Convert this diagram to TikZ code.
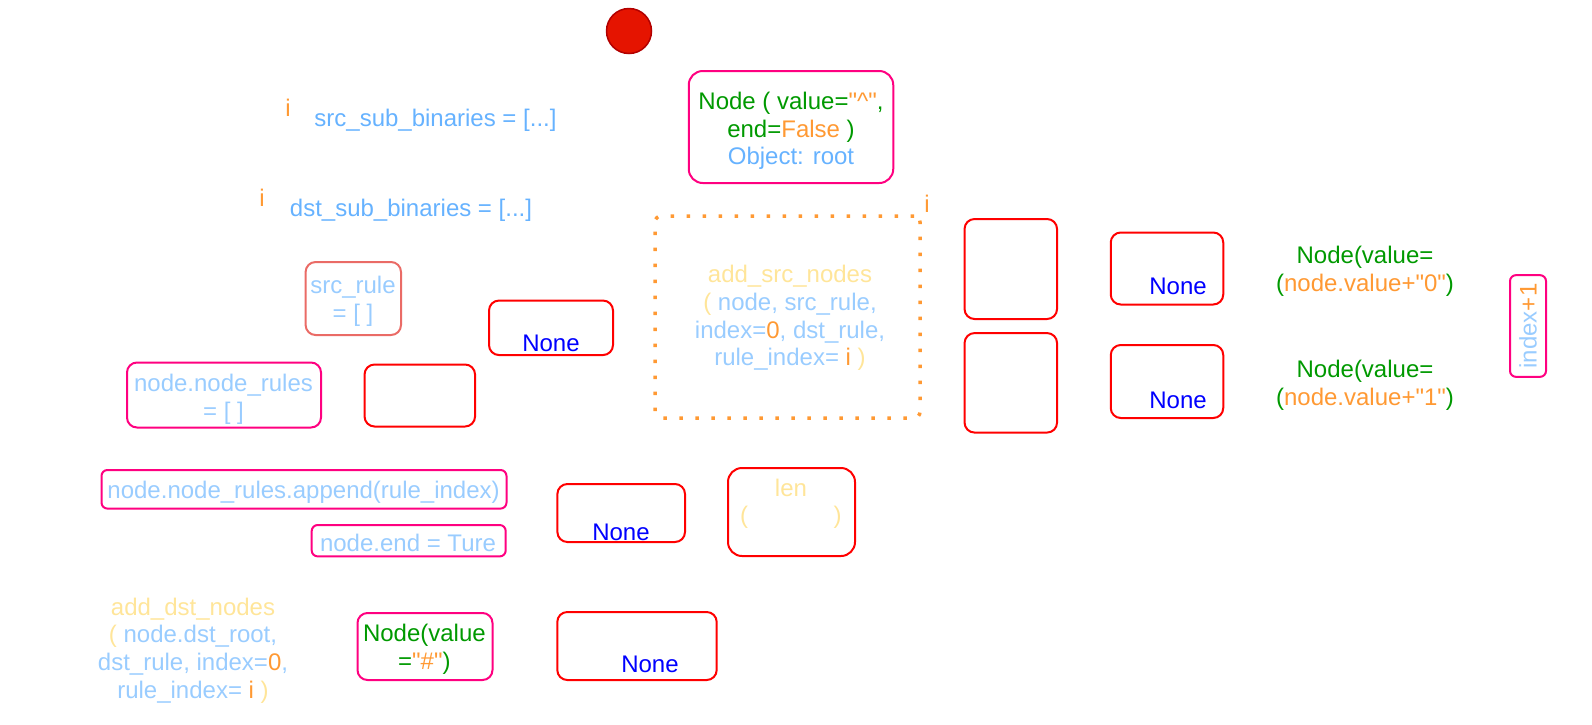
\documentclass[tikz,border=0pt]{standalone}
\usepackage{fontspec}
\setmainfont{Liberation Sans}[Ligatures=TeXOff]
\definecolor{cGreen}{HTML}{009900}
\definecolor{cOrange}{HTML}{FF9933}
\definecolor{cBlueA}{HTML}{66B2FF}
\definecolor{cBlueB}{HTML}{99CCFF}
\definecolor{cYellow}{HTML}{FFE599}
\definecolor{cPink}{HTML}{FF0080}
\definecolor{cRed}{HTML}{FF0000}
\definecolor{cSalmon}{HTML}{EA6B66}
\definecolor{cNone}{HTML}{0000FF}
\definecolor{cCircF}{HTML}{E51400}
\definecolor{cCircD}{HTML}{B20000}
\newcommand\fs{\fontsize{24}{27.6}\selectfont}
\newcommand\qq{\symbol{34}}
\tikzset{
  rbox/.style={draw=cRed, rounded corners=10pt, line width=2pt, inner sep=0pt},
  pbox/.style={draw=cPink, rounded corners=10pt, line width=2pt, inner sep=0pt},
  txt/.style={inner sep=0pt, align=center, font=\fs, yshift=-2pt},
  ivar/.style={txt, text=cOrange},
  nonetxt/.style={txt, text=cNone},
}
\begin{document}
\begin{tikzpicture}[x=1pt,y=-1pt]
\useasboundingbox (0,0) rectangle (1592,724);

% start circle
\node[circle, draw=cCircD, fill=cCircF, line width=1.5pt, minimum size=45pt, inner sep=0pt] (start) at (629,31) {};

% left top texts
\node[ivar] (i1) at (288,106) {i};
\node[txt, text=cBlueA] (srcsub) at (435.5,118) {src\_sub\_binaries = [...]};
\node[ivar] (i2) at (262,196) {i};
\node[txt, text=cBlueA] (dstsub) at (411,208) {dst\_sub\_binaries = [...]};

% root node
\node[pbox, rounded corners=14pt, minimum width=204.5pt, minimum height=112pt] (root) at (791,127) {};
\node[txt] (roottxt) at (791,129) {\textcolor{cGreen}{Node ( value=}\textcolor{cOrange}{\qq\^{}\qq}\textcolor{cGreen}{,}\\
\textcolor{cGreen}{end=}\textcolor{cOrange}{False} \textcolor{cGreen}{)}\\
\textcolor{cBlueA}{Object: root}};

% dotted add_src_nodes box
\node[draw=cOrange, line width=3.5pt, dash pattern=on 3.5pt off 12.5pt, rounded corners=6pt, inner sep=0pt,
      minimum width=265pt, minimum height=202pt] (srcbox) at (787.5,317) {};
\node[ivar] (i3) at (927,202) {i};
\node[txt] (srctxt) at (790,316) {\textcolor{cYellow}{add\_src\_nodes}\\
\textcolor{cYellow}{(} \textcolor{cBlueB}{node, src\_rule,}\\
\textcolor{cBlueB}{index=}\textcolor{cOrange}{0}\textcolor{cBlueB}{, dst\_rule,}\\
\textcolor{cBlueB}{rule\_index=} \textcolor{cOrange}{i} \textcolor{cYellow}{)}};

% right side boxes
\node[rbox, minimum width=92.5pt, minimum height=100pt] (tall1) at (1010.8,269) {};
\node[rbox, minimum width=92.5pt, minimum height=99.5pt] (tall2) at (1010.8,382.8) {};
\node[rbox, minimum width=112.5pt, minimum height=72pt] (noneR1) at (1167,268.5) {};
\node[nonetxt] (noneR1t) at (1178,284) {None};
\node[rbox, minimum width=112.5pt, minimum height=73pt] (noneR2) at (1167,381.5) {};
\node[nonetxt] (noneR2t) at (1178,398) {None};
\node[txt] (val0) at (1365,269.5) {\textcolor{cGreen}{Node(value=}\\
\textcolor{cGreen}{(}\textcolor{cOrange}{node.value+\qq 0\qq}\textcolor{cGreen}{)}};
\node[txt] (val1) at (1365,383) {\textcolor{cGreen}{Node(value=}\\
\textcolor{cGreen}{(}\textcolor{cOrange}{node.value+\qq 1\qq}\textcolor{cGreen}{)}};
\node[pbox, rounded corners=6pt, minimum width=36pt, minimum height=101.7pt] (idx) at (1528,326) {};
\node[inner sep=0pt, font=\fs, rotate=90] (idxt) at (1528,326) {\textcolor{cBlueB}{index}\textcolor{cOrange}{+1}};

% src_rule
\node[draw=cSalmon, rounded corners=10pt, line width=2pt, inner sep=0pt, minimum width=95.4pt, minimum height=73pt] (srcrule) at (353.3,298.5) {};
\node[txt, text=cBlueB] (srcrulet) at (353,299.5) {src\_rule\\= [ ]};

% None box 1
\node[rbox, minimum width=124pt, minimum height=54.5pt] (none1) at (551,327.8) {};
\node[nonetxt] (none1t) at (551,341) {None};

% node.node_rules
\node[pbox, minimum width=194pt, minimum height=65pt] (noderules) at (224,395) {};
\node[txt, text=cBlueB] (noderulest) at (223.5,397) {node.node\_rules\\= [ ]};
\node[rbox, minimum width=110.5pt, minimum height=62pt] (empty) at (419.8,395.5) {};

% append / end
\node[pbox, rounded corners=6pt, minimum width=405pt, minimum height=38.6pt] (append) at (304,489.3) {};
\node[txt, text=cBlueB] (appendt) at (303.6,490.4) {node.node\_rules.append(rule\_index)};
\node[pbox, rounded corners=6pt, minimum width=194pt, minimum height=31.4pt] (nodeend) at (408.7,540.7) {};
\node[txt, text=cBlueB] (nodeendt) at (408,541) {node.end = Ture};

% None box 2
\node[rbox, minimum width=127.6pt, minimum height=58pt] (none2) at (621.2,513) {};
\node[nonetxt] (none2t) at (621,530) {None};

% len box
\node[rbox, rounded corners=14pt, minimum width=127pt, minimum height=88pt] (len) at (791.5,512) {};
\node[txt, text=cYellow] (lent) at (791,486) {len};
\node[txt, text=cYellow] (lenl) at (744,515) {(};
\node[txt, text=cYellow] (lenr) at (837.6,515) {)};

% add_dst_nodes
\node[txt] (dsttxt) at (193,648.5) {\textcolor{cYellow}{add\_dst\_nodes}\\
\textcolor{cYellow}{(} \textcolor{cBlueB}{node.dst\_root,}\\
\textcolor{cBlueB}{dst\_rule, index=}\textcolor{cOrange}{0}\textcolor{cBlueB}{,}\\
\textcolor{cBlueB}{rule\_index=} \textcolor{cOrange}{i} \textcolor{cYellow}{)}};

% Node(value="#")
\node[pbox, minimum width=135pt, minimum height=67pt] (hash) at (425,646.5) {};
\node[txt] (hasht) at (424.4,647) {\textcolor{cGreen}{Node(value}\\
\textcolor{cGreen}{=}\textcolor{cOrange}{\qq\#\qq}\textcolor{cGreen}{)}};

% None box 3
\node[rbox, minimum width=159.4pt, minimum height=68pt] (none3) at (637,646) {};
\node[nonetxt] (none3t) at (650,662) {None};
\end{tikzpicture}
\end{document}
